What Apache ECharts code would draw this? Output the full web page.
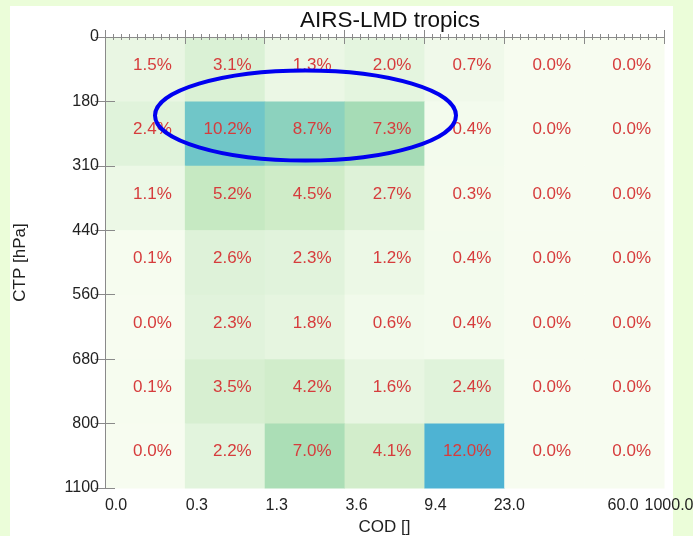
<!DOCTYPE html>
<html>
<head>
<meta charset="utf-8">
<script src="https://cdn.jsdelivr.net/npm/echarts@6/dist/echarts.min.js"></script>
<style>
  html, body { margin: 0; padding: 0; background: #ebfdd9; }
  #panel { position: absolute; left: 10px; top: 6px; width: 663px; height: 530px; background: #fff; }
  #main { position: absolute; left: 0; top: 0; width: 693px; height: 536px; }
</style>
</head>
<body>
<div id="panel"></div>
<div id="main"></div>
<script>
// bin edges (tick labels)
const codLabels = ['0.0', '0.3', '1.3', '3.6', '9.4', '23.0', '60.0', '1000.0']
const ctpLabels = ['0', '180', '310', '440', '560', '680', '800', '1100']

// relative frequency [%], one row per CTP bin, columns = COD bins
const ctp0_180 = [1.5, 3.1, 1.3, 2.0, 0.7, 0.0, 0.0]
const ctp180_310 = [2.4, 10.2, 8.7, 7.3, 0.4, 0.0, 0.0]
const ctp310_440 = [1.1, 5.2, 4.5, 2.7, 0.3, 0.0, 0.0]
const ctp440_560 = [0.1, 2.6, 2.3, 1.2, 0.4, 0.0, 0.0]
const ctp560_680 = [0.0, 2.3, 1.8, 0.6, 0.4, 0.0, 0.0]
const ctp680_800 = [0.1, 3.5, 4.2, 1.6, 2.4, 0.0, 0.0]
const ctp800_1100 = [0.0, 2.2, 7.0, 4.1, 12.0, 0.0, 0.0]

const rows = [ctp0_180, ctp180_310, ctp310_440, ctp440_560, ctp560_680, ctp680_800, ctp800_1100]
const cells = []
rows.forEach((row, j) => row.forEach((v, i) => cells.push([i, j, v])))

const font = 'Liberation Sans, Arial, Helvetica, sans-serif'
const lineColor = '#8a8a8a'

// the x tick labels in the original are not all placed the same way
const codShift = [11, 12, 12, 12, 11, 5, 39, 5]
const codRich = {}
codShift.forEach((s, i) => {
  codRich['s' + i] = { padding: [0, 0, 0, 2 * s], fontFamily: font, fontSize: 16, color: '#222' }
})

const chart = echarts.init(document.getElementById('main'))

const option = {
  backgroundColor: 'transparent',
  animation: false,
  title: {
    text: 'AIRS-LMD tropics',
    left: 385, top: 4, textAlign: 'center',
    textStyle: { fontFamily: font, fontSize: 22.5, fontWeight: 'normal', color: '#111' }
  },
  grid: { left: 105, top: 37, right: 29, bottom: 48, outerBoundsMode: 'none', containLabel: false },
  visualMap: {
    show: false, type: 'continuous', min: 0, max: 12, dimension: 2, seriesIndex: 0,
    inRange: { color: ['#f7fcf0', '#e0f3db', '#ccebc5', '#a8ddb5', '#7bccc4', '#4eb3d3'] }
  },
  xAxis: [
    {
      type: 'value', position: 'bottom', min: 0, max: 7, interval: 1, z: 5,
      name: 'COD []', nameLocation: 'middle', nameGap: 18,
      nameTextStyle: { fontFamily: font, fontSize: 17, color: '#222' },
      axisLine: { show: true, lineStyle: { color: lineColor } },
      axisTick: { show: true, inside: true, length: 7, lineStyle: { color: lineColor } },
      minorTick: { show: true, splitNumber: 10, length: 3, lineStyle: { color: lineColor } },
      splitLine: { show: false },
      axisLabel: {
        formatter: v => '{s' + v + '|' + codLabels[v] + '}',
        rich: codRich,
        align: 'center', margin: 10, hideOverlap: false,
        fontFamily: font, fontSize: 16, color: '#222'
      }
    },
    {
      type: 'value', position: 'top', min: 0, max: 7, interval: 1, z: 5,
      axisLine: { show: true, lineStyle: { color: lineColor } },
      axisTick: { show: true, inside: true, length: 7, lineStyle: { color: lineColor } },
      minorTick: { show: true, splitNumber: 10, length: 3, lineStyle: { color: lineColor } },
      splitLine: { show: false },
      axisLabel: { show: false }
    }
  ],
  yAxis: [
    {
      type: 'value', position: 'left', min: 0, max: 7, interval: 1, inverse: true, z: 5,
      name: 'CTP [hPa]', nameLocation: 'middle', nameGap: 76, nameRotate: 90,
      nameTextStyle: { fontFamily: font, fontSize: 17, color: '#222' },
      axisLine: { show: true, lineStyle: { color: lineColor } },
      axisTick: { show: true, inside: true, length: 10, lineStyle: { color: lineColor } },
      splitLine: { show: false },
      axisLabel: {
        formatter: v => ctpLabels[v], margin: 6,
        fontFamily: font, fontSize: 16, color: '#222'
      }
    },
    {
      type: 'value', position: 'right', min: 0, max: 7, interval: 1, inverse: true, z: 5,
      axisLine: { show: true, lineStyle: { color: lineColor } },
      axisTick: { show: true, inside: true, length: 10, lineStyle: { color: lineColor } },
      splitLine: { show: false },
      axisLabel: { show: false }
    }
  ],
  series: [
    {
      type: 'custom',
      xAxisIndex: 0, yAxisIndex: 0,
      data: cells,
      z: 1,
      renderItem: (params, api) => {
        const i = api.value(0)
        const j = api.value(1)
        const a = api.coord([i, j])
        const b = api.coord([i + 1, j + 1])
        const x = Math.min(a[0], b[0])
        const y = Math.min(a[1], b[1])
        const w = Math.abs(b[0] - a[0])
        const h = Math.abs(b[1] - a[1])
        return {
          type: 'group',
          children: [
            {
              type: 'rect',
              shape: { x: x, y: y, width: w + 0.5, height: h + 0.5 },
              style: { fill: api.visual('color') }
            },
            {
              type: 'text',
              style: {
                text: api.value(2).toFixed(1) + '%',
                x: x + w - 13, y: y + h / 2 - 4,
                align: 'right', verticalAlign: 'middle',
                fill: '#d63c3c', font: '17px ' + font
              }
            }
          ]
        }
      }
    }
  ],
  graphic: [
    {
      type: 'ellipse',
      shape: { cx: 305.5, cy: 115.5, rx: 150.5, ry: 45 },
      style: { fill: null, stroke: '#0000f0', lineWidth: 4 },
      z: 100
    }
  ]
}

chart.setOption(option)
</script>
</body>
</html>
